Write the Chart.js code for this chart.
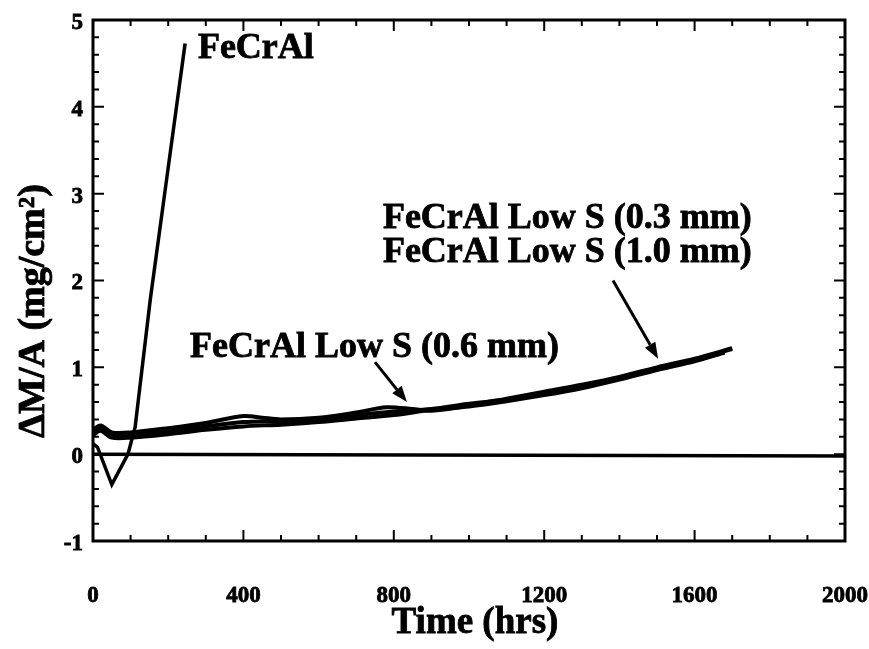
<!DOCTYPE html>
<html>
<head>
<meta charset="utf-8">
<script src="https://cdn.jsdelivr.net/npm/chart.js@4"></script>
<style>
  html, body { margin: 0; padding: 0; background: #fff; }
  #chart { display: block; }
</style>
</head>
<body>
<canvas id="chart" width="869" height="649"></canvas>
<script>
// Data
const fecralTime = [0, 12, 50, 93, 112, 152, 200, 245];
const fecralGain = [0.12, 0.08, -0.35, 0.0, 0.31, 1.77, 3.3, 4.73];

const lowS03Time = [0, 20, 50, 100, 200, 300, 400, 450, 500, 600, 700, 780, 850, 900, 1000, 1100, 1200, 1300, 1400, 1500, 1600, 1700];
const lowS03Gain = [0.28, 0.33, 0.25, 0.25, 0.30, 0.36, 0.44, 0.42, 0.40, 0.42, 0.48, 0.54, 0.52, 0.50, 0.56, 0.64, 0.72, 0.80, 0.89, 1.00, 1.10, 1.22];

const lowS10Time = [0, 20, 50, 100, 200, 300, 400, 500, 600, 700, 800, 900, 1000, 1100, 1200, 1300, 1400, 1500, 1600, 1700];
const lowS10Gain = [0.24, 0.30, 0.22, 0.22, 0.26, 0.32, 0.37, 0.38, 0.40, 0.45, 0.49, 0.52, 0.58, 0.63, 0.70, 0.78, 0.88, 0.99, 1.09, 1.21];

const lowS06Time = [0, 20, 50, 100, 200, 300, 400, 500, 600, 700, 800, 900, 1000, 1100, 1200, 1300, 1400, 1500, 1600, 1680];
const lowS06Gain = [0.22, 0.27, 0.19, 0.19, 0.23, 0.28, 0.32, 0.34, 0.37, 0.41, 0.45, 0.51, 0.55, 0.61, 0.68, 0.76, 0.86, 0.97, 1.07, 1.17];

const baselineTime = [0, 2000];
const baselineGain = [0, -0.02];

const xTicks = [0, 400, 800, 1200, 1600, 2000];
const yTicks = [-1, 0, 1, 2, 3, 4, 5];

// text labels and arrows, in data units
const labels = [
  { text: 'FeCrAl', x: 279, y: 4.56 },
  { text: 'FeCrAl Low S (0.3 mm)', x: 771, y: 2.61 },
  { text: 'FeCrAl Low S (1.0 mm)', x: 771, y: 2.21 },
  { text: 'FeCrAl Low S (0.6 mm)', x: 258, y: 1.12 }
];
const arrows = [
  { from: [750, 1.06], to: [835, 0.60] },
  { from: [1383, 2.0], to: [1503, 1.1] }
];

const SERIF = '"Liberation Serif", "DejaVu Serif", serif';

function pts(xs, ys) {
  return xs.map((x, i) => ({ x: x, y: ys[i] }));
}

function lineSet(label, xs, ys, tension) {
  return {
    label: label,
    data: pts(xs, ys),
    borderColor: '#000',
    borderWidth: 4,
    pointRadius: 0,
    tension: tension,
    fill: false
  };
}

function boldText(ctx, txt, x, y) {
  ctx.fillText(txt, x, y);
  ctx.strokeText(txt, x, y);
}

const decorPlugin = {
  id: 'decor',
  afterDraw(chart) {
    const ctx = chart.ctx;
    const xs = chart.scales.x, ys = chart.scales.y;
    const a = chart.chartArea;
    ctx.save();
    ctx.strokeStyle = '#000';
    ctx.fillStyle = '#000';

    // frame
    ctx.lineWidth = 3;
    ctx.strokeRect(a.left, a.top, a.right - a.left, a.bottom - a.top);

    // inward ticks on all four sides
    ctx.lineWidth = 2;
    for (let v = 0; v <= 2000; v += 100) {
      const px = xs.getPixelForValue(v);
      const len = v % 400 === 0 ? 11 : 6;
      ctx.beginPath();
      ctx.moveTo(px, a.bottom); ctx.lineTo(px, a.bottom - len);
      ctx.moveTo(px, a.top); ctx.lineTo(px, a.top + len);
      ctx.stroke();
    }
    for (let i = 0; i <= 30; i++) {
      const v = -1 + i * 0.2;
      const py = ys.getPixelForValue(v);
      const len = i % 5 === 0 ? 11 : 6;
      ctx.beginPath();
      ctx.moveTo(a.left, py); ctx.lineTo(a.left + len, py);
      ctx.moveTo(a.right, py); ctx.lineTo(a.right - len, py);
      ctx.stroke();
    }

    // tick labels
    ctx.lineWidth = 0.8;
    ctx.font = 'bold 23px ' + SERIF;
    ctx.textBaseline = 'middle';
    ctx.textAlign = 'center';
    xTicks.forEach(v => boldText(ctx, String(v), xs.getPixelForValue(v), 596));
    ctx.textAlign = 'right';
    yTicks.forEach(v => boldText(ctx, String(v), 83, ys.getPixelForValue(v) + 3));

    // labels
    ctx.font = 'bold 36px ' + SERIF;
    ctx.lineWidth = 0.8;
    ctx.textAlign = 'left';
    ctx.textBaseline = 'alphabetic';
    labels.forEach(l => {
      boldText(ctx, l.text, xs.getPixelForValue(l.x), ys.getPixelForValue(l.y));
    });

    // arrows
    arrows.forEach(ar => {
      const x1 = xs.getPixelForValue(ar.from[0]), y1 = ys.getPixelForValue(ar.from[1]);
      const x2 = xs.getPixelForValue(ar.to[0]), y2 = ys.getPixelForValue(ar.to[1]);
      const ang = Math.atan2(y2 - y1, x2 - x1);
      const head = 16, half = 6;
      ctx.lineWidth = 3;
      ctx.beginPath();
      ctx.moveTo(x1, y1);
      ctx.lineTo(x2 - head * Math.cos(ang), y2 - head * Math.sin(ang));
      ctx.stroke();
      ctx.beginPath();
      ctx.moveTo(x2, y2);
      ctx.lineTo(x2 - head * Math.cos(ang) + half * Math.sin(ang), y2 - head * Math.sin(ang) - half * Math.cos(ang));
      ctx.lineTo(x2 - head * Math.cos(ang) - half * Math.sin(ang), y2 - head * Math.sin(ang) + half * Math.cos(ang));
      ctx.closePath();
      ctx.fill();
    });

    // axis titles
    ctx.lineWidth = 0.8;
    ctx.font = 'bold 37px ' + SERIF;
    ctx.textAlign = 'center';
    boldText(ctx, 'Time (hrs)', (a.left + a.right) / 2 + 6, 633);

    ctx.translate(44, 311);
    ctx.rotate(-Math.PI / 2);
    ctx.font = 'bold 38px ' + SERIF;
    boldText(ctx, 'ΔM/A (mg/cm²)', 0, 0);
    ctx.restore();
  }
};

new Chart(document.getElementById('chart'), {
  type: 'line',
  data: {
    datasets: [
      Object.assign(lineSet('FeCrAl', fecralTime, fecralGain, 0), { borderWidth: 3.5 }),
      lineSet('FeCrAl Low S (0.3 mm)', lowS03Time, lowS03Gain, 0.3),
      lineSet('FeCrAl Low S (1.0 mm)', lowS10Time, lowS10Gain, 0.3),
      lineSet('FeCrAl Low S (0.6 mm)', lowS06Time, lowS06Gain, 0.3),
      Object.assign(lineSet('baseline', baselineTime, baselineGain, 0), { borderWidth: 3.5 })
    ]
  },
  options: {
    responsive: false,
    animation: false,
    devicePixelRatio: 1,
    layout: { padding: { left: 0, top: 20, right: 24, bottom: 0 } },
    plugins: { legend: { display: false }, tooltip: { enabled: false } },
    scales: {
      x: {
        type: 'linear',
        min: 0, max: 2000,
        afterBuildTicks: s => { s.ticks = xTicks.map(v => ({ value: v })); },
        afterFit: s => { s.height = 108; },
        grid: { display: false, drawTicks: false },
        border: { display: false },
        ticks: { display: false }
      },
      y: {
        min: -1, max: 5,
        afterBuildTicks: s => { s.ticks = yTicks.map(v => ({ value: v })); },
        afterFit: s => { s.width = 93; },
        grid: { display: false, drawTicks: false },
        border: { display: false },
        ticks: { display: false }
      }
    }
  },
  plugins: [decorPlugin]
});
</script>
</body>
</html>
